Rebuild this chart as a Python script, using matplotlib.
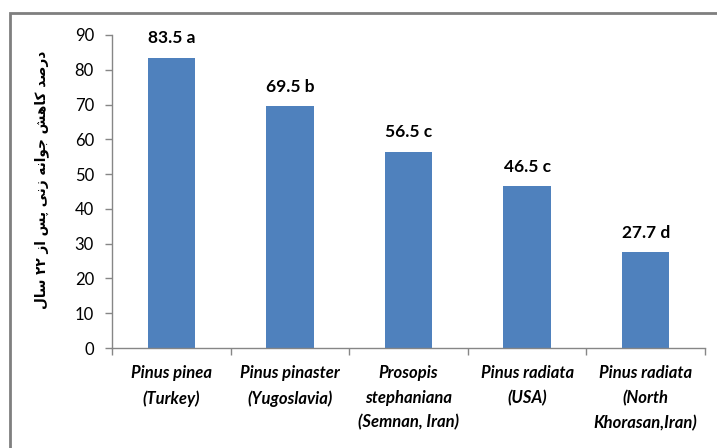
import matplotlib
matplotlib.use("Agg")
import matplotlib.pyplot as plt
from matplotlib.patches import Rectangle

# Data
categories = [
    "Pinus pinea\n(Turkey)",
    "Pinus pinaster\n(Yugoslavia)",
    "Prosopis\nstephaniana\n(Semnan, Iran)",
    "Pinus radiata\n(USA)",
    "Pinus radiata\n(North\nKhorasan,Iran)",
]
values = [83.5, 69.5, 56.5, 46.5, 27.7]
letters = ["a", "b", "c", "c", "d"]
yticks = [0, 10, 20, 30, 40, 50, 60, 70, 80, 90]

# Persian axis title written with Arabic presentation forms in visual order
# logical: درصد کاهش جوانه زنی پس از ۲۲ سال
words_logical = [
    "\uFEA9\uFEAD\uFEBB\uFEAA",          # درصد
    "\uFEDB\uFE8E\uFEEB\uFEB6",          # کاهش
    "\uFE9F\uFEEE\uFE8D\uFEE7\uFEEA",    # جوانه
    "\uFEAF\uFEE7\uFEF0",                # زنی
    "\uFB58\uFEB2",                      # پس
    "\uFE8D\uFEAF",                      # از
    "\u06F2\u06F2",                      # ۲۲
    "\uFEB3\uFE8E\uFEDD",                # سال
]
ylabel_text = " ".join(w[::-1] if not w[0].isdigit() else w for w in reversed(words_logical))

fig = plt.figure(figsize=(7.17, 4.48), dpi=100)
ax = fig.add_axes([112 / 717, 1 - 348 / 448, (705 - 112) / 717, (348 - 35) / 448])

x = list(range(len(values)))
bars = ax.bar(x, values, width=0.4, color="#4F81BD", zorder=2)

for xi, v, l in zip(x, values, letters):
    ax.annotate(f"{v} {l}", (xi, v), xytext=(0, 8), textcoords="offset points",
                ha="center", va="bottom", fontsize=12.5, fontweight="bold",
                family="Lato", color="black")

ax.set_xlim(-0.5, len(values) - 0.5)
ax.set_ylim(0, 90)
ax.set_yticks(yticks)
ax.set_yticklabels([str(t) for t in yticks], fontsize=12, family="Lato")
ax.tick_params(axis="y", length=5, color="#868686", width=1, pad=8)

# category boundary ticks on the x axis
ax.set_xticks([i - 0.5 for i in range(len(values) + 1)])
ax.set_xticklabels([])
ax.tick_params(axis="x", length=5, color="#868686", width=1)
for xi, c in zip(x, categories):
    ax.text(xi, -0.055, c, transform=ax.get_xaxis_transform(), ha="center", va="top",
            fontsize=12, fontweight="bold", style="italic", family="Lato",
            linespacing=1.65)

for s in ["top", "right"]:
    ax.spines[s].set_visible(False)
for s in ["left", "bottom"]:
    ax.spines[s].set_color("#868686")
    ax.spines[s].set_linewidth(1)

fig.text(42 / 717, 1 - 180 / 448, ylabel_text, rotation=90, ha="center", va="center",
         fontsize=9.8, fontweight="bold", family="DejaVu Sans")

# outer chart frame
frame = Rectangle((10 / 717, -0.2), 1.2, 1 - 13 / 448 + 0.2, transform=fig.transFigure,
                  fill=False, edgecolor="#7F7F7F", linewidth=2, clip_on=False)
fig.patches.append(frame)

fig.savefig("out.png", dpi=100)
